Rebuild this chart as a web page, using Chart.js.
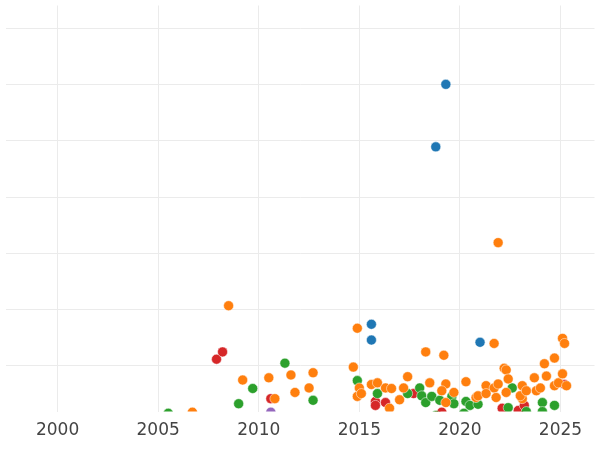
<!DOCTYPE html><html><head><script src="https://cdn.jsdelivr.net/npm/chart.js@4"></script>
<style>body{margin:0;background:#fff}#w{width:600px;height:450px}</style></head><body><div id="w"><canvas id="c"></canvas></div>
<script>
const blueX=[2019.3,2018.8,2015.6,2015.6,2021.0];
const blueY=[6.0,4.89,1.74,1.46,1.42];
const redX=[2007.9,2008.2,2010.6,2004.6,2015.8,2015.8,2016.3,2017.7,2018.9,2019.1,2019.5,2022.1,2022.9,2023.2,2025.2];
const redY=[1.12,1.25,0.42,0.07,0.37,0.30,0.35,0.51,0.12,0.18,0.09,0.25,0.21,0.30,0.67];
const purpleX=[2010.6];
const purpleY=[0.18];
const greenX=[2005.5,2009.0,2009.7,2011.3,2012.7,2014.9,2015.9,2017.4,2018.0,2018.1,2018.3,2018.6,2019.0,2018.8,2019.6,2019.7,2020.2,2020.3,2020.5,2020.9,2022.6,2022.4,2023.3,2024.1,2024.1,2024.7];
const greenY=[0.16,0.33,0.60,1.05,0.39,0.74,0.51,0.51,0.61,0.47,0.35,0.46,0.39,0.12,0.46,0.33,0.16,0.37,0.30,0.32,0.61,0.26,0.19,0.35,0.19,0.30];
const orangeX=[1999.2,2003.2,2004.8,2006.7,2008.5,2009.2,2010.5,2010.8,2011.6,2011.8,2012.5,2012.7,2014.9,2014.7,2015.0,2014.9,2015.1,2015.6,2015.9,2016.5,2016.3,2016.6,2017.0,2017.4,2017.2,2018.5,2018.3,2019.2,2019.3,2019.1,2019.3,2019.7,2020.3,2020.8,2020.9,2021.7,2021.9,2021.3,2021.7,2021.9,2021.3,2021.8,2022.2,2022.3,2022.4,2022.3,2023.1,2023.0,2023.1,2023.3,2023.7,2023.8,2024.0,2024.3,2024.2,2024.7,2024.7,2024.9,2025.1,2025.3,2025.1,2025.2];
const orangeY=[0.02,0.07,0.07,0.18,2.07,0.75,0.79,0.42,0.84,0.53,0.61,0.88,1.67,0.98,0.61,0.46,0.51,0.67,0.70,0.25,0.61,0.60,0.40,0.81,0.61,0.70,1.25,1.19,0.68,0.56,0.35,0.53,0.72,0.44,0.47,1.40,3.19,0.65,0.61,0.68,0.51,0.44,0.96,0.93,0.77,0.53,0.42,0.47,0.65,0.56,0.79,0.56,0.61,0.82,1.04,1.14,0.65,0.70,0.86,0.65,1.49,1.40];
const xTicks=[2000,2005,2010,2015,2020,2025];
const yTicks=[1,2,3,4,5,6,7];
const pts=(xs,ys)=>xs.map((x,i)=>({x,y:ys[i]}));
const ds=(xs,ys,c)=>({data:pts(xs,ys),backgroundColor:c,borderColor:'#fff',borderWidth:0.5,pointRadius:5,pointHoverRadius:5});
new Chart(document.getElementById('c'),{type:'scatter',
data:{datasets:[ds(purpleX,purpleY,'#9467bd'),ds(orangeX,orangeY,'#ff7f0e'),ds(greenX,greenY,'#2ca02c'),ds(redX,redY,'#d62728'),ds(blueX,blueY,'#1f77b4')]},
options:{responsive:true,maintainAspectRatio:false,animation:false,layout:{padding:0},
plugins:{legend:{display:false},tooltip:{enabled:false}},
scales:{
x:{type:'linear',min:1997.41,max:2026.69,afterBuildTicks:a=>{a.ticks=xTicks.map(v=>({value:v}));},
 grid:{color:'#ebebeb',drawTicks:false},border:{display:false},
 ticks:{color:'#444',font:{family:'DejaVu Sans',size:17},padding:9,callback:v=>String(v)}},
y:{min:0.19,max:7.40,afterBuildTicks:a=>{a.ticks=yTicks.map(v=>({value:v}));},ticks:{display:false},afterFit:a=>{a.width=0;},grid:{color:'#ebebeb',drawTicks:false},border:{display:false}}
}}});
</script></body></html>
